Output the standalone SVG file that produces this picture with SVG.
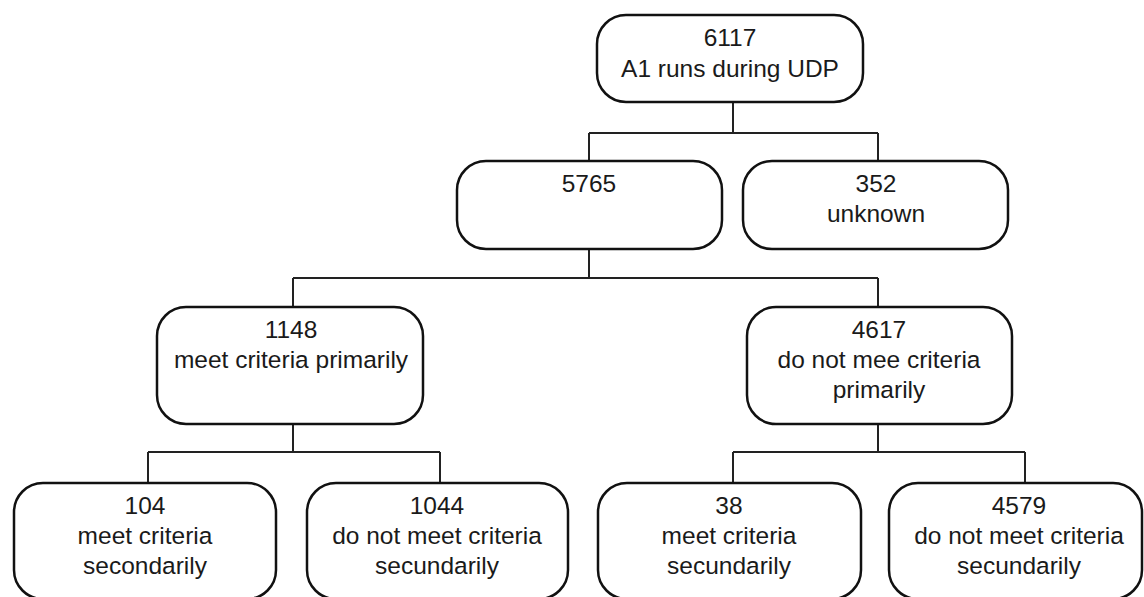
<svg xmlns="http://www.w3.org/2000/svg" width="1144" height="597" viewBox="0 0 1144 597">
<style>
.box{fill:#fff;stroke:#111;stroke-width:2.5}
.conn{fill:none;stroke:#222;stroke-width:2}
text{font-family:"Liberation Sans",Arial,sans-serif;font-size:24.5px;fill:#1a1a1a;text-anchor:middle}
</style>
<rect width="1144" height="597" fill="#fff"/>
<g id="connectors" class="conn">
<path d="M733 102V133M589 133H878M589 133V161M878 133V161"/>
<path d="M589 249V278M293 278H878M293 278V307M878 278V307"/>
<path d="M293 424V452M148 452H440M148 452V483M440 452V483"/>
<path d="M878 424V452M733 452H1025M733 452V483M1025 452V483"/>
</g>
<g id="n6117"><rect class="box" x="597" y="15" width="266" height="87" rx="29"/><text x="730" y="46">6117</text><text x="730" y="77">A1 runs during UDP</text></g>
<g id="n5765"><rect class="box" x="457" y="161" width="265" height="88" rx="29"/><text x="589" y="192">5765</text></g>
<g id="n352"><rect class="box" x="743" y="161" width="265" height="88" rx="29"/><text x="876" y="192">352</text><text x="876" y="222">unknown</text></g>
<g id="n1148"><rect class="box" x="157" y="307" width="266" height="117" rx="29"/><text x="291" y="338">1148</text><text x="291" y="368">meet criteria primarily</text></g>
<g id="n4617"><rect class="box" x="747" y="307" width="265" height="117" rx="29"/><text x="879" y="338">4617</text><text x="879" y="368">do not mee criteria</text><text x="879" y="398">primarily</text></g>
<g id="n104"><rect class="box" x="14" y="483" width="262" height="116" rx="29"/><text x="145" y="514">104</text><text x="145" y="544">meet criteria</text><text x="145" y="574">secondarily</text></g>
<g id="n1044"><rect class="box" x="307" y="483" width="261" height="116" rx="29"/><text x="437" y="514">1044</text><text x="437" y="544">do not meet criteria</text><text x="437" y="574">secundarily</text></g>
<g id="n38"><rect class="box" x="598" y="483" width="263" height="116" rx="29"/><text x="729" y="514">38</text><text x="729" y="544">meet criteria</text><text x="729" y="574">secundarily</text></g>
<g id="n4579"><rect class="box" x="889" y="483" width="253" height="116" rx="29"/><text x="1019" y="514">4579</text><text x="1019" y="544">do not meet criteria</text><text x="1019" y="574">secundarily</text></g>
</svg>
